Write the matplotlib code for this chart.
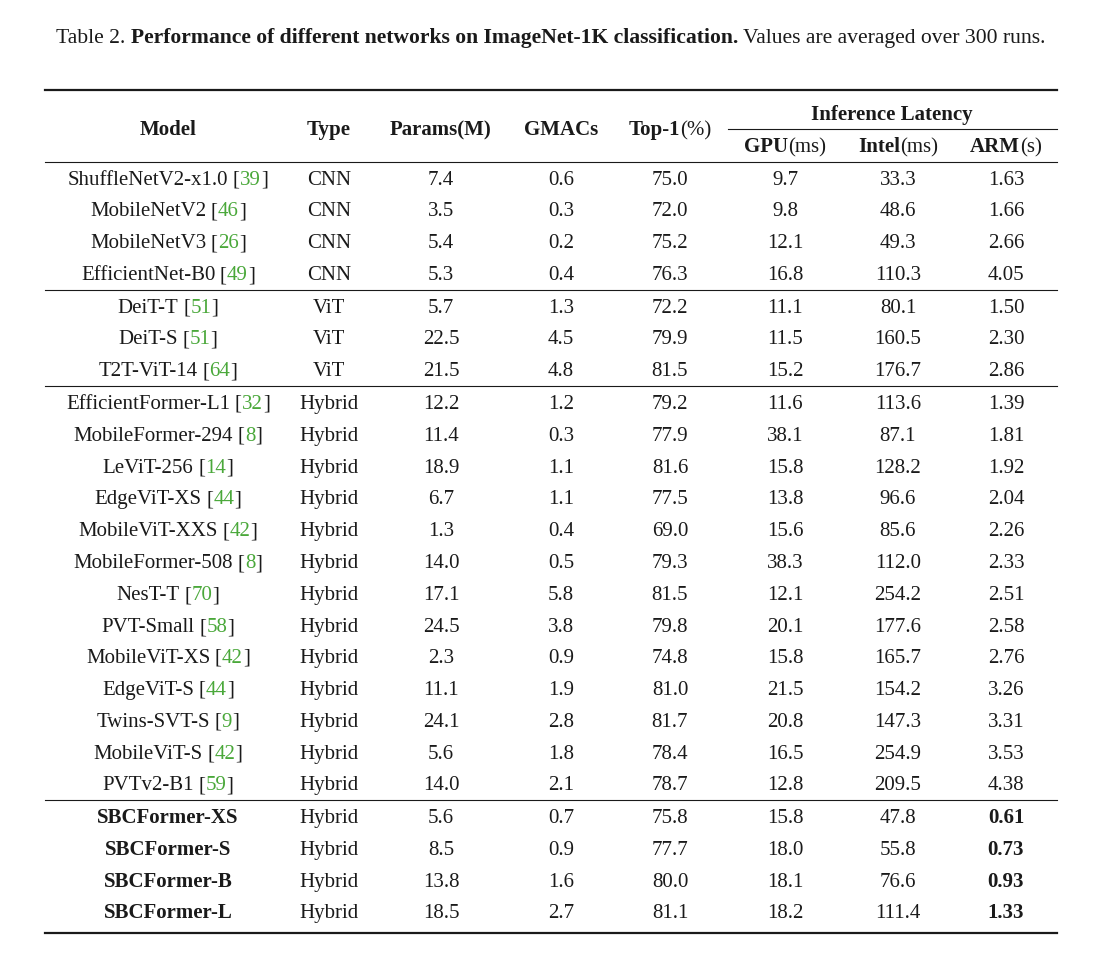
import matplotlib.pyplot as plt

plt.rcParams['font.family'] = ['Liberation Serif', 'DejaVu Serif']

models = ["ShuffleNetV2-x1.0", "MobileNetV2", "MobileNetV3", "EfficientNet-B0",
          "DeiT-T", "DeiT-S", "T2T-ViT-14",
          "EfficientFormer-L1", "MobileFormer-294", "LeViT-256", "EdgeViT-XS",
          "MobileViT-XXS", "MobileFormer-508", "NesT-T", "PVT-Small", "MobileViT-XS",
          "EdgeViT-S", "Twins-SVT-S", "MobileViT-S", "PVTv2-B1",
          "SBCFormer-XS", "SBCFormer-S", "SBCFormer-B", "SBCFormer-L"]
cites = ["39", "46", "26", "49", "51", "51", "64", "32", "8", "14", "44", "42", "8",
         "70", "58", "42", "44", "9", "42", "59", "", "", "", ""]
types = ["CNN"] * 4 + ["ViT"] * 3 + ["Hybrid"] * 17
params = ["7.4", "3.5", "5.4", "5.3", "5.7", "22.5", "21.5", "12.2", "11.4", "18.9",
          "6.7", "1.3", "14.0", "17.1", "24.5", "2.3", "11.1", "24.1", "5.6", "14.0",
          "5.6", "8.5", "13.8", "18.5"]
gmacs = ["0.6", "0.3", "0.2", "0.4", "1.3", "4.5", "4.8", "1.2", "0.3", "1.1", "1.1",
         "0.4", "0.5", "5.8", "3.8", "0.9", "1.9", "2.8", "1.8", "2.1",
         "0.7", "0.9", "1.6", "2.7"]
top1 = ["75.0", "72.0", "75.2", "76.3", "72.2", "79.9", "81.5", "79.2", "77.9", "81.6",
        "77.5", "69.0", "79.3", "81.5", "79.8", "74.8", "81.0", "81.7", "78.4", "78.7",
        "75.8", "77.7", "80.0", "81.1"]
gpu = ["9.7", "9.8", "12.1", "16.8", "11.1", "11.5", "15.2", "11.6", "38.1", "15.8",
       "13.8", "15.6", "38.3", "12.1", "20.1", "15.8", "21.5", "20.8", "16.5", "12.8",
       "15.8", "18.0", "18.1", "18.2"]
intel = ["33.3", "48.6", "49.3", "110.3", "80.1", "160.5", "176.7", "113.6", "87.1",
         "128.2", "96.6", "85.6", "112.0", "254.2", "177.6", "165.7", "154.2", "147.3",
         "254.9", "209.5", "47.8", "55.8", "76.6", "111.4"]
arm = ["1.63", "1.66", "2.66", "4.05", "1.50", "2.30", "2.86", "1.39", "1.81", "1.92",
       "2.04", "2.26", "2.33", "2.51", "2.58", "2.76", "3.26", "3.31", "3.53", "4.38",
       "0.61", "0.73", "0.93", "1.33"]
ours = [False] * 20 + [True] * 4

GREEN = "#4aa83a"
INK = "#1a1a1a"
FS = 15

fig = plt.figure(figsize=(11.11, 9.61), dpi=100)
ax = fig.add_axes([0, 0, 1, 1])
ax.set_xlim(0, 1111)
ax.set_ylim(961, 0)
ax.axis('off')
renderer = fig.canvas.get_renderer()


def runs(xc, yb, parts, size=FS, gaps=None):
    """draw text pieces side by side, centred on xc, baseline yb"""
    objs, widths = [], []
    for s, w, c in parts:
        t = ax.text(0, yb, s, fontsize=size, fontweight=w, color=c,
                    ha='left', va='baseline')
        objs.append(t)
        widths.append(t.get_window_extent(renderer).width)
    if gaps is None:
        gaps = [0] * (len(parts) - 1)
    total = sum(widths) + sum(gaps)
    x = xc - total / 2
    for i, t in enumerate(objs):
        t.set_x(x)
        x += widths[i] + (gaps[i] if i < len(gaps) else 0)


# caption
sp = 5
runs(551, 43, [("Table 2.", 'normal', INK),
               ("Performance of different networks on ImageNet-1K classification.", 'bold', INK),
               ("Values are averaged over 300 runs.", 'normal', INK)], size=15.6, gaps=[sp, sp])

# rules
L, R = 45, 1057
ax.plot([L, R], [90, 90], color=INK, lw=1.6)
ax.plot([728, R], [129, 129], color=INK, lw=0.8)
ax.plot([L, R], [162, 162], color=INK, lw=0.8)
for yy in [289.5, 386, 800]:
    ax.plot([L, R], [yy, yy], color=INK, lw=0.8)
ax.plot([L, R], [933, 933], color=INK, lw=1.6)

cols = [168, 329, 441, 561, 670, 785, 898, 1006]

# header
hb = 135
runs(cols[0], hb, [("Model", 'bold', INK)])
runs(cols[1], hb, [("Type", 'bold', INK)])
runs(cols[2], hb, [("Params(M)", 'bold', INK)])
runs(cols[3], hb, [("GMACs", 'bold', INK)])
runs(cols[4], hb, [("Top-1", 'bold', INK), ("(%)", 'normal', INK)])
runs(892, 120, [("Inference Latency", 'bold', INK)])
runs(cols[5], 152, [("GPU", 'bold', INK), ("(ms)", 'normal', INK)])
runs(cols[6], 152, [("Intel", 'bold', INK), ("(ms)", 'normal', INK)])
runs(cols[7], 152, [("ARM", 'bold', INK), ("(s)", 'normal', INK)])

row_y = [178, 209, 241, 273, 306, 337, 369, 402, 434, 466, 497, 529, 561, 593,
         625, 656, 688, 720, 752, 783, 816, 848, 880, 911]

for i, yc in enumerate(row_y):
    yb = yc + 7
    if ours[i]:
        runs(cols[0], yb, [(models[i], 'bold', INK)])
    else:
        runs(cols[0], yb, [(models[i], 'normal', INK), ("[", 'normal', INK),
                           (cites[i], 'normal', GREEN), ("]", 'normal', INK)],
             gaps=[4.5, 0.2, 0.2])
    runs(cols[1], yb, [(types[i], 'normal', INK)])
    runs(cols[2], yb, [(params[i], 'normal', INK)])
    runs(cols[3], yb, [(gmacs[i], 'normal', INK)])
    runs(cols[4], yb, [(top1[i], 'normal', INK)])
    runs(cols[5], yb, [(gpu[i], 'normal', INK)])
    runs(cols[6], yb, [(intel[i], 'normal', INK)])
    runs(cols[7], yb, [(arm[i], 'bold' if ours[i] else 'normal', INK)])

fig.savefig("out.png", dpi=100, facecolor='white')
